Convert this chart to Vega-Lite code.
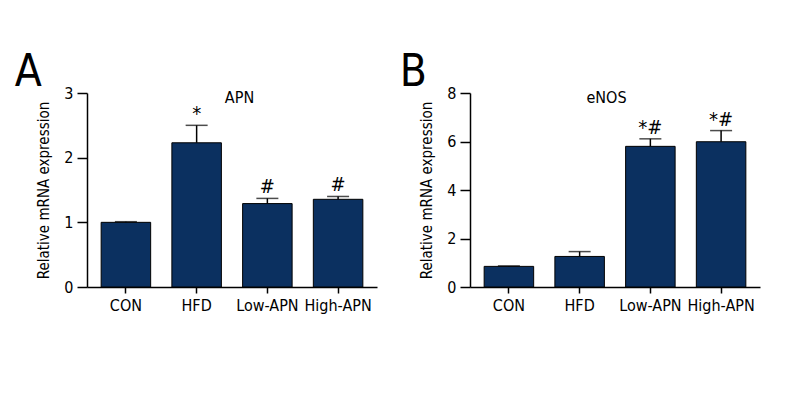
{
  "$schema": "https://vega.github.io/schema/vega-lite/v6.json",
  "padding": {"left": 14, "top": 51, "right": 10, "bottom": 5},
  "background": "white",
  "config": {
    "font": "DejaVu Sans Condensed, Roboto, sans-serif",
    "view": {"stroke": null},
    "axis": {
      "labelFont": "DejaVu Sans Condensed, Roboto, sans-serif",
      "titleFont": "DejaVu Sans Condensed, Roboto, sans-serif",
      "labelFontSize": 16,
      "titleFontSize": 15,
      "titleFontWeight": "normal",
      "labelColor": "black",
      "titleColor": "black",
      "domainColor": "black",
      "tickColor": "black",
      "domainWidth": 1.5,
      "tickWidth": 1.5,
      "grid": false
    },
    "axisX": {"tickSize": 6, "labelPadding": 4},
    "axisY": {"tickSize": 10, "labelPadding": 4, "titlePadding": 12},
    "title": {"font": "DejaVu Sans Condensed, Roboto, sans-serif", "fontSize": 44, "fontWeight": "normal", "anchor": "start", "frame": "bounds", "color": "black", "offset": -10}
  },
  "datasets": {
    "apn": [
      {"group": "CON", "mean": 1.0, "upper": 1.01, "sig": ""},
      {"group": "HFD", "mean": 2.23, "upper": 2.5, "sig": "*"},
      {"group": "Low-APN", "mean": 1.29, "upper": 1.37, "sig": "#"},
      {"group": "High-APN", "mean": 1.356, "upper": 1.4, "sig": "#"}
    ],
    "enos": [
      {"group": "CON", "mean": 0.85, "upper": 0.87, "sig": ""},
      {"group": "HFD", "mean": 1.26, "upper": 1.46, "sig": ""},
      {"group": "Low-APN", "mean": 5.8, "upper": 6.11, "sig": "*#"},
      {"group": "High-APN", "mean": 5.99, "upper": 6.45, "sig": "*#"}
    ]
  },
  "spacing": 22,
  "hconcat": [
    {
      "width": 290,
      "height": 194,
      "title": {"text": "A", "dx": -22},
      "data": {"name": "apn"},
      "resolve": {"axis": {"x": "independent"}},
      "layer": [
        {
          "mark": {"type": "bar", "fill": "#0b3060", "stroke": "black", "strokeWidth": 1},
          "encoding": {
            "x": {"field": "group", "type": "nominal", "sort": ["CON", "HFD", "Low-APN", "High-APN"], "scale": {"paddingInner": 0.3, "paddingOuter": 0.2}, "axis": {"title": null, "labelAngle": 0}},
            "y": {"field": "mean", "type": "quantitative", "scale": {"domain": [0, 3]}, "axis": {"values": [0, 1, 2, 3], "title": "Relative mRNA expression"}}
          }
        },
        {
          "mark": {"type": "rule", "strokeWidth": 1.5, "color": "black"},
          "encoding": {
            "x": {"field": "group", "type": "nominal", "sort": ["CON", "HFD", "Low-APN", "High-APN"], "axis": null},
            "y": {"field": "mean", "type": "quantitative", "scale": {"domain": [0, 3]}, "axis": {"values": [0, 1, 2, 3], "title": "Relative mRNA expression"}},
            "y2": {"field": "upper"}
          }
        },
        {
          "mark": {"type": "tick", "size": 22, "thickness": 1.5, "color": "black"},
          "encoding": {
            "x": {"field": "group", "type": "nominal", "sort": ["CON", "HFD", "Low-APN", "High-APN"], "axis": null},
            "y": {"field": "upper", "type": "quantitative", "scale": {"domain": [0, 3]}, "axis": {"values": [0, 1, 2, 3], "title": "Relative mRNA expression"}}
          }
        },
        {
          "mark": {"type": "text", "fontSize": 20, "baseline": "alphabetic", "dy": -5, "color": "black"},
          "encoding": {
            "x": {"field": "group", "type": "nominal", "sort": ["CON", "HFD", "Low-APN", "High-APN"], "axis": {"orient": "top", "title": "APN", "titleFontSize": 16, "labels": false, "ticks": false, "domain": false, "titleX": 152, "titleY": 9, "titleBaseline": "alphabetic"}},
            "y": {"field": "upper", "type": "quantitative", "scale": {"domain": [0, 3]}, "axis": {"values": [0, 1, 2, 3], "title": "Relative mRNA expression"}},
            "text": {"field": "sig"}
          }
        }
      ]
    },
    {
      "width": 290,
      "height": 194,
      "title": {"text": "B", "dx": -20},
      "data": {"name": "enos"},
      "resolve": {"axis": {"x": "independent"}},
      "layer": [
        {
          "mark": {"type": "bar", "fill": "#0b3060", "stroke": "black", "strokeWidth": 1},
          "encoding": {
            "x": {"field": "group", "type": "nominal", "sort": ["CON", "HFD", "Low-APN", "High-APN"], "scale": {"paddingInner": 0.3, "paddingOuter": 0.2}, "axis": {"title": null, "labelAngle": 0}},
            "y": {"field": "mean", "type": "quantitative", "scale": {"domain": [0, 8]}, "axis": {"values": [0, 2, 4, 6, 8], "title": "Relative mRNA expression"}}
          }
        },
        {
          "mark": {"type": "rule", "strokeWidth": 1.5, "color": "black"},
          "encoding": {
            "x": {"field": "group", "type": "nominal", "sort": ["CON", "HFD", "Low-APN", "High-APN"], "axis": null},
            "y": {"field": "mean", "type": "quantitative", "scale": {"domain": [0, 8]}, "axis": {"values": [0, 2, 4, 6, 8], "title": "Relative mRNA expression"}},
            "y2": {"field": "upper"}
          }
        },
        {
          "mark": {"type": "tick", "size": 22, "thickness": 1.5, "color": "black"},
          "encoding": {
            "x": {"field": "group", "type": "nominal", "sort": ["CON", "HFD", "Low-APN", "High-APN"], "axis": null},
            "y": {"field": "upper", "type": "quantitative", "scale": {"domain": [0, 8]}, "axis": {"values": [0, 2, 4, 6, 8], "title": "Relative mRNA expression"}}
          }
        },
        {
          "mark": {"type": "text", "fontSize": 20, "baseline": "alphabetic", "dy": -5, "color": "black"},
          "encoding": {
            "x": {"field": "group", "type": "nominal", "sort": ["CON", "HFD", "Low-APN", "High-APN"], "axis": {"orient": "top", "title": "eNOS", "titleFontSize": 16, "labels": false, "ticks": false, "domain": false, "titleX": 136, "titleY": 9, "titleBaseline": "alphabetic"}},
            "y": {"field": "upper", "type": "quantitative", "scale": {"domain": [0, 8]}, "axis": {"values": [0, 2, 4, 6, 8], "title": "Relative mRNA expression"}},
            "text": {"field": "sig"}
          }
        }
      ]
    }
  ]
}
